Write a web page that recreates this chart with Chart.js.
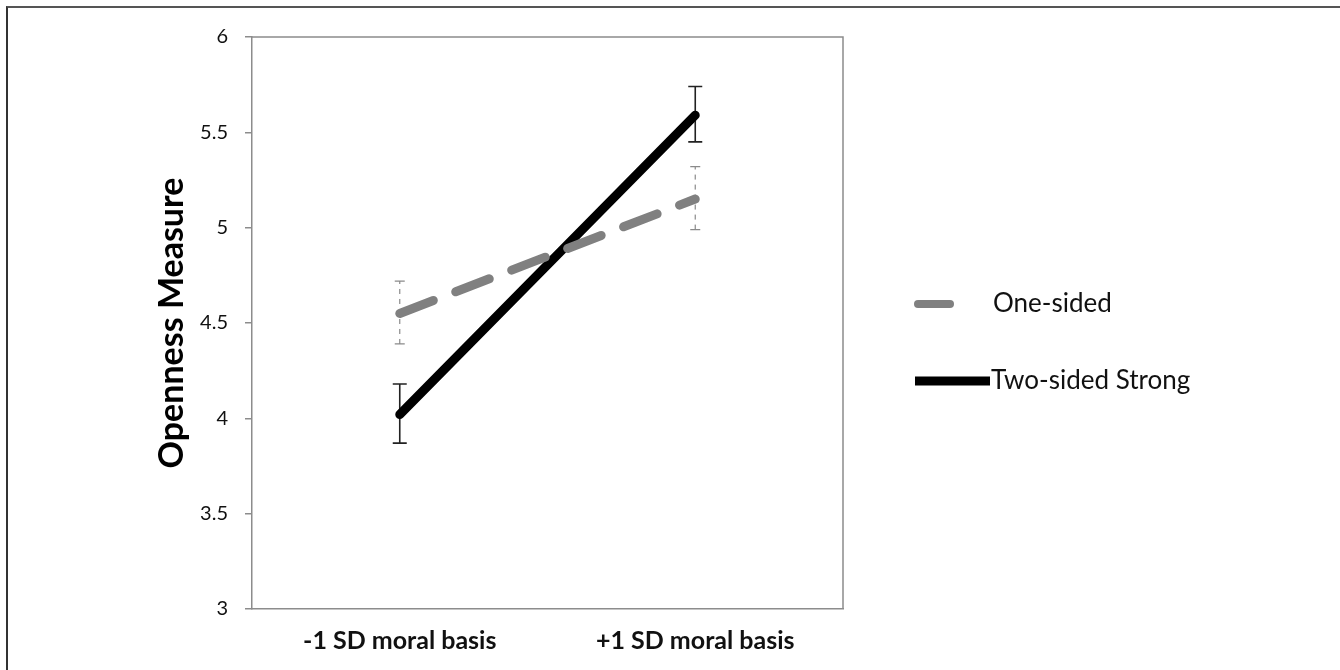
<!DOCTYPE html>
<html>
<head>
<meta charset="utf-8">
<script src="https://cdn.jsdelivr.net/npm/chart.js@4/dist/chart.umd.min.js"></script>
<style>
  html, body { margin: 0; padding: 0; background: #fff; }
  #wrap { position: relative; width: 1340px; height: 670px; overflow: hidden; }
  #frame { position: absolute; left: 6px; top: 6px; width: 1400px; height: 700px;
           border-top: 2px solid #555; border-left: 2px solid #333; pointer-events: none; }
</style>
</head>
<body>
<div id="wrap">
  <canvas id="openness-chart" width="1340" height="670"></canvas>
  <div id="frame"></div>
</div>
<script>
// data
var categories = ["-1 SD moral basis", "+1 SD moral basis"];
var seriesNames = ["One-sided", "Two-sided Strong"];
var oneSided = [4.55, 5.15];
var oneSidedLow = [4.39, 4.99];
var oneSidedHigh = [4.72, 5.32];
var twoSided = [4.02, 5.59];
var twoSidedLow = [3.87, 5.45];
var twoSidedHigh = [4.18, 5.74];
var yTicks = [3, 3.5, 4, 4.5, 5, 5.5, 6];

var FONT = "Lato, 'Open Sans', sans-serif";

// error bars, frame and legend
var extras = {
    id: 'extras',
    beforeDatasetsDraw: function (chart) {
        var ctx = chart.ctx, a = chart.chartArea;
        var xs = chart.scales.x, ys = chart.scales.y;
        ctx.save();
        // top + right edge of the plot box
        ctx.strokeStyle = '#8c8c8c';
        ctx.lineWidth = 1.5;
        ctx.beginPath();
        ctx.moveTo(a.left, a.top);
        ctx.lineTo(a.right, a.top);
        ctx.lineTo(a.right, a.bottom);
        ctx.stroke();

        var bars = [
            {low: oneSidedLow, high: oneSidedHigh, color: '#8a8a8a', dash: [5, 5], cap: 5, width: 1.2},
            {low: twoSidedLow, high: twoSidedHigh, color: '#222', dash: [], cap: 7, width: 1.6}
        ];
        bars.forEach(function (b) {
            for (var i = 0; i < categories.length; i++) {
                var x = xs.getPixelForValue(i);
                var y1 = ys.getPixelForValue(b.low[i]);
                var y2 = ys.getPixelForValue(b.high[i]);
                ctx.strokeStyle = b.color;
                ctx.lineWidth = b.width;
                ctx.setLineDash(b.dash);
                ctx.beginPath();
                ctx.moveTo(x, y1); ctx.lineTo(x, y2);
                ctx.stroke();
                ctx.setLineDash([]);
                ctx.beginPath();
                ctx.moveTo(x - b.cap, y1); ctx.lineTo(x + b.cap, y1);
                ctx.moveTo(x - b.cap, y2); ctx.lineTo(x + b.cap, y2);
                ctx.stroke();
            }
        });
        ctx.restore();
    },
    afterDraw: function (chart) {
        var ctx = chart.ctx;
        var rows = [
            {x1: 918, x2: 950, y: 304, tx: 993},
            {x1: 915, x2: 990, y: 381, tx: 991}
        ];
        ctx.save();
        chart.data.datasets.forEach(function (ds, i) {
            var r = rows[i];
            ctx.strokeStyle = ds.borderColor;
            ctx.lineWidth = i === 0 ? 8 : 9;
            ctx.lineCap = i === 0 ? 'round' : 'butt';
            ctx.beginPath();
            ctx.moveTo(r.x1, r.y); ctx.lineTo(r.x2, r.y);
            ctx.stroke();
            ctx.fillStyle = '#111';
            ctx.font = '26px ' + FONT;
            ctx.textBaseline = 'middle';
            ctx.fillText(ds.label, r.tx, r.y);
        });
        ctx.restore();
    }
};

new Chart(document.getElementById("openness-chart"), {
    type: 'line',
    data: {
        labels: categories,
        datasets: [
            {
                label: seriesNames[0],
                data: oneSided,
                borderColor: '#808080',
                borderWidth: 9,
                borderDash: [36, 24],
                borderCapStyle: 'round',
                pointRadius: 0,
                tension: 0
            },
            {
                label: seriesNames[1],
                data: twoSided,
                borderColor: '#000000',
                borderWidth: 9,
                borderCapStyle: 'round',
                pointRadius: 0,
                tension: 0
            }
        ]
    },
    options: {
        responsive: false,
        animation: false,
        layout: { padding: { left: 150, right: 497, top: 37, bottom: 0 } },
        plugins: {
            legend: { display: false },
            tooltip: { enabled: false }
        },
        scales: {
            x: {
                offset: true,
                grid: { display: false, drawTicks: false },
                border: { color: '#8c8c8c', width: 1.5 },
                ticks: {
                    padding: 17,
                    color: '#111',
                    font: { family: FONT, size: 25, weight: 'bold' }
                },
                afterFit: function (scale) { scale.height = 61; }
            },
            y: {
                min: 3,
                max: 6,
                afterBuildTicks: function (scale) {
                    scale.ticks = yTicks.map(function (v) { return {value: v}; });
                },
                grid: { drawOnChartArea: false, tickLength: 7, color: '#8c8c8c', lineWidth: 1.5 },
                border: { color: '#8c8c8c', width: 1.5 },
                ticks: {
                    padding: 17,
                    color: '#111',
                    font: { family: FONT, size: 20 },
                    callback: function (v) { return String(v); }
                },
                title: {
                    display: true,
                    text: 'Openness Measure',
                    color: '#000',
                    padding: { top: 2, bottom: 0 },
                    font: { family: FONT, size: 34, weight: 'bold' }
                },
                afterFit: function (scale) { scale.width = 102; }
            }
        }
    },
    plugins: [extras]
});
</script>
</body>
</html>
